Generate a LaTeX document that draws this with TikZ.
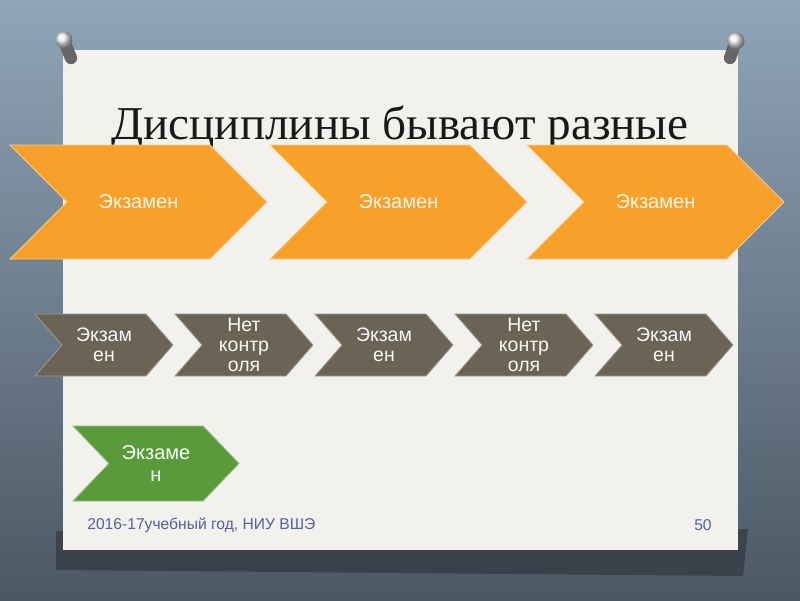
\documentclass[tikz,border=0pt]{standalone}
\usepackage{fontspec}
\setmainfont{Liberation Sans}
\newfontfamily\titlefont{Liberation Serif}
\usetikzlibrary{positioning}

\definecolor{bgtop}{HTML}{8FA5B8}
\definecolor{bgbot}{HTML}{4C5864}
\definecolor{paper}{HTML}{F2F1ED}
\definecolor{examorange}{HTML}{F8A12A}
\definecolor{examtaupe}{HTML}{6B6356}
\definecolor{examgreen}{HTML}{5A9A3A}
\definecolor{footblue}{HTML}{56609A}

% chevron: style, name, left x, top y, width, height, depth, text
\newcommand{\chevron}[8]{%
  \filldraw[#1] (#3,#4) -- ++(#5-#7,0) -- ++(#7,#6/2) -- ++(-#7,#6/2)
    -- ++(-#5+#7,0) -- ++(#7,-#6/2) -- cycle;
  \node[#1txt] (#2) at (#3+#5/2,#4+#6/2) {#8};}

\begin{document}
\begin{tikzpicture}[
    x=0.02cm, y=-0.02cm,
    bigchev/.style={fill=examorange, draw=white!45!examorange, line width=0.5pt},
    bigchevtxt/.style={text=white!90!examorange, font=\fontsize{11.4}{13}\selectfont, align=center},
    smallchev/.style={fill=examtaupe, draw=white!35!examtaupe, line width=0.5pt},
    smallchevtxt/.style={text=white!95!examtaupe, font=\fontsize{11.1}{11.4}\selectfont, align=center},
    greenchev/.style={fill=examgreen, draw=white!35!examgreen, line width=0.5pt},
    greenchevtxt/.style={text=white!95!examgreen, font=\fontsize{11.4}{12.5}\selectfont, align=center},
    foot/.style={text=footblue, inner sep=0pt, font=\fontsize{8.9}{10}\selectfont},
    pinshaft/.style={line width=7pt, line cap=round, black!60}
]
    \useasboundingbox (0,0) rectangle (800,600);

    % Backdrop, shadow and sheet
    \shade[top color=bgtop, bottom color=bgbot] (0,0) rectangle (800,600);
    \fill[black, opacity=0.28] (56,531) -- (748,529) -- (743,576) -- (56,570) -- cycle;
    \fill[paper] (63,50) rectangle (738,550);

    % Pins
    \draw[pinshaft] (66,46) -- (71,58);
    \shade[ball color=white!85!gray] (64,40) circle (8.5);
    \draw[pinshaft] (734,46) -- (730,58);
    \shade[ball color=white!85!gray] (736,41) circle (8.5);

    % Title
    \node[font=\titlefont\fontsize{26.8}{30}\selectfont, text=black!90, anchor=base] (title) at (400,139) {Дисциплины бывают разные};

    % Row of big chevrons
    \chevron{bigchev}{big1}{10}{145}{257}{114}{57}{Экзамен}
    \chevron{bigchev}{big2}{270}{145}{257}{114}{57}{Экзамен}
    \chevron{bigchev}{big3}{527}{145}{257}{114}{57}{Экзамен}

    % Row of small chevrons
    \chevron{smallchev}{small1}{35}{314}{138}{62}{27}{Экзам\\ен}
    \chevron{smallchev}{small2}{175}{314}{138}{62}{27}{Нет\\контр\\оля}
    \chevron{smallchev}{small3}{315}{314}{138}{62}{27}{Экзам\\ен}
    \chevron{smallchev}{small4}{455}{314}{138}{62}{27}{Нет\\контр\\оля}
    \chevron{smallchev}{small5}{595}{314}{138}{62}{27}{Экзам\\ен}

    % Single green chevron
    \chevron{greenchev}{green1}{73}{426}{166}{75}{36}{Экзаме\\н}

    % Footer
    \node[foot, anchor=west] (year) at (87,525) {2016-17учебный год, НИУ ВШЭ};
    \node[foot, anchor=east] (page) at (712,525) {50};
\end{tikzpicture}
\end{document}
